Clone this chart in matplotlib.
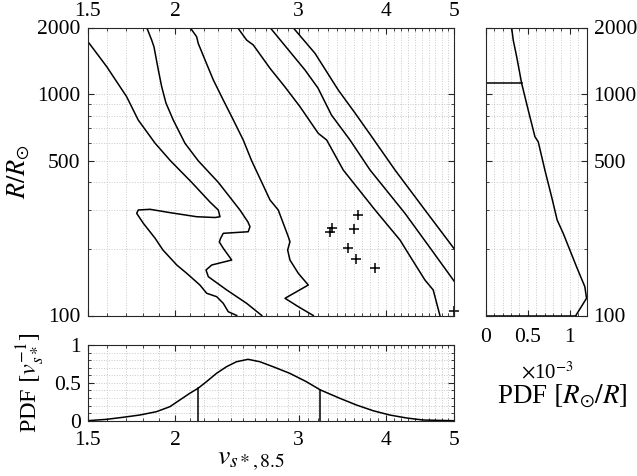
import numpy as np
import matplotlib
matplotlib.use('Agg')
import matplotlib.pyplot as plt
from matplotlib.ticker import FixedLocator, NullFormatter

plt.rcParams['font.family'] = ['Liberation Serif', 'DejaVu Serif']
plt.rcParams['mathtext.fontset'] = 'stix'

# contour lines of the joint density (v_s*, R)
c1_v = [1.5, 1.598, 1.706, 1.772, 1.873, 1.970, 2.112, 2.243, 2.305, 2.318, 2.280, 2.147,
        1.970, 1.842, 1.772, 1.763, 1.802, 1.873, 1.922, 2.011, 2.078, 2.170, 2.219, 2.293,
        2.343, 2.382, 2.449]
c1_R = [1737, 1330, 973, 764, 600, 500, 399.5, 325.5, 299.6, 279.4, 277.1, 279.4,
        291.3, 301.8, 299.6, 289.5, 260.9, 223.3, 197.6, 169.1, 155.1, 137.3, 126.0, 121.6,
        113.5, 104.0, 100]
c2_v = [1.822, 1.852, 1.866, 1.893, 1.914, 1.941, 1.988, 2.066, 2.158, 2.305, 2.475, 2.541,
        2.558, 2.543, 2.343, 2.323, 2.313, 2.343, 2.409, 2.256, 2.214, 2.231, 2.370, 2.530,
        2.659]
c2_R = [2000, 1755, 1637, 1285, 1080, 911.8, 764, 600, 500, 399.5, 299.6, 264.5,
        251.9, 239.0, 235.1, 223.3, 214.8, 201.2, 178.1, 169.1, 160.5, 149.7, 130.4, 113.5,
        100]
c3_v = [2.101, 2.147, 2.158, 2.207, 2.268, 2.343, 2.422, 2.502, 2.572, 2.659, 2.732, 2.807,
        2.901, 2.917, 2.895, 2.917, 2.998, 3.098, 2.870, 2.998, 3.149]
c3_R = [2000, 1816, 1696, 1426, 1158, 940.6, 764, 620.5, 500, 399.5, 332.4, 299.6,
        227.0, 215.4, 197.6, 178.1, 155.1, 137.3, 119.6, 109.6, 100]
c4_v = [2.455, 2.530, 2.586, 2.732, 2.870, 3.015, 3.201, 3.291, 3.475, 3.858, 4.187, 4.302,
        4.545, 4.670, 4.774]
c4_R = [2000, 1755, 1667, 1308, 1077, 877.3, 665.3, 620.5, 454.2, 299.6, 219.3, 190.9,
        144.6, 130.4, 100]
c5_v = [2.732, 2.839, 3.065, 3.198, 3.343, 3.553, 3.795, 4.256, 4.646, 5.0]
c5_R = [2000, 1725, 1285, 1066, 804.6, 620.5, 454.2, 289.5, 197.6, 143.2]
c6_v = [2.946, 3.167, 3.419, 3.612, 3.816, 4.119, 4.545, 5.0]
c6_R = [2000, 1529, 1043, 821.5, 642.2, 454.2, 299.6, 200.7]

# observed stars
obs_v = [3.651, 3.353, 3.327, 3.605, 3.533, 3.623, 3.857, 5.0]
obs_R = [284.4, 249.2, 239.0, 245.1, 201.2, 180.0, 164.4, 105.1]

# marginal PDF of R
pdfR_x = [0.308e-3, 0.327e-3, 0.368e-3, 0.427e-3, 0.505e-3, 0.585e-3, 0.624e-3, 0.703e-3,
          0.783e-3, 0.849e-3, 0.921e-3, 1.0e-3, 1.079e-3, 1.178e-3, 1.198e-3, 1.071e-3]
pdfR_R = [2003, 1755, 1476, 1119, 847.8, 642, 609.5, 454, 344, 270, 235, 197.6,
          166.1, 134.9, 119.6, 100]
R_bounds = [100, 1119]

# marginal PDF of v
pdfv_v = [1.5, 1.597, 1.686, 1.781, 1.881, 1.966, 2.031, 2.099, 2.157, 2.217, 2.292, 2.368,
          2.447, 2.542, 2.642, 2.760, 2.915, 3.079, 3.224, 3.436, 3.630, 3.833, 4.049, 4.278,
          4.516, 5.0]
pdfv_y = [0.0, 0.018, 0.045, 0.075, 0.119, 0.185, 0.273, 0.362, 0.428, 0.515, 0.626, 0.713,
          0.779, 0.811, 0.779, 0.713, 0.626, 0.515, 0.406, 0.296, 0.207, 0.132, 0.075, 0.036,
          0.009, 0.0]
v_bounds = [2.157, 3.224]

W, H = 637, 476
fig = plt.figure(figsize=(W / 100, H / 100), dpi=100)
ax = fig.add_axes([87.5 / W, 1 - 315.5 / H, (454 - 87.5) / W, 288 / H])
axr = fig.add_axes([485.7 / W, 1 - 315.5 / H, (586.7 - 485.7) / W, 288 / H])
axb = fig.add_axes([87.5 / W, 1 - 420.7 / H, (454 - 87.5) / W, 75.7 / H])

fs = 15.5
lw = 1.1
edge = '#262626'
v_major = [1.5, 2, 3, 4, 5]
v_minor = [x for x in np.round(np.arange(1.6, 5.0, 0.1), 1) if x not in (2, 3, 4)]
R_major = [100, 500, 1000, 2000]
R_minor = [200, 300, 400, 600, 700, 800, 900]


def style(a):
    a.grid(True, which='both', ls=':', lw=0.7, color='#c8c8c8')
    a.set_axisbelow(True)
    a.tick_params(which='both', direction='in', top=True, right=True,
                  labelsize=fs, color=edge, labelcolor='black', pad=5)
    a.tick_params(which='major', length=4)
    a.tick_params(which='minor', length=2.2)
    for s in a.spines.values():
        s.set_color(edge)
        s.set_linewidth(0.8)


def log_v(a):
    a.set_xscale('log')
    a.set_xlim(1.5, 5)
    a.xaxis.set_major_locator(FixedLocator(v_major))
    a.xaxis.set_minor_locator(FixedLocator(v_minor))
    a.set_xticklabels(['1.5', '2', '3', '4', '5'])
    a.xaxis.set_minor_formatter(NullFormatter())


def log_R(a):
    a.set_yscale('log')
    a.set_ylim(100, 2000)
    a.yaxis.set_major_locator(FixedLocator(R_major))
    a.yaxis.set_minor_locator(FixedLocator(R_minor))
    a.set_yticklabels(['100', '500', '1000', '2000'])
    a.yaxis.set_minor_formatter(NullFormatter())


# main panel
for cv, cR in [(c1_v, c1_R), (c2_v, c2_R), (c3_v, c3_R),
               (c4_v, c4_R), (c5_v, c5_R), (c6_v, c6_R)]:
    ax.plot(cv, cR, color='black', lw=lw)
ax.plot(obs_v, obs_R, '+', color='black', ms=6.5, mew=1.1, clip_on=False)
log_v(ax)
log_R(ax)
style(ax)
ax.tick_params(labeltop=True, labelbottom=False)
ax.set_ylabel(r'$R/R_{\odot}$', fontsize=19, labelpad=4)

# right panel: PDF of R
axr.plot(pdfR_x, pdfR_R, color='black', lw=lw)
for rb in R_bounds:
    xb = np.interp(np.log10(rb), np.log10(pdfR_R[::-1]), pdfR_x[::-1])
    axr.plot([0, xb], [rb, rb], color='black', lw=lw)
log_R(axr)
axr.set_xlim(0, 1.2e-3)
axr.xaxis.set_major_locator(FixedLocator([0, 0.5e-3, 1e-3]))
axr.xaxis.set_minor_locator(FixedLocator(np.arange(1, 12) * 1e-4))
axr.set_xticklabels(['0', '0.5', '1'])
axr.xaxis.set_minor_formatter(NullFormatter())
style(axr)
axr.tick_params(labelleft=False, labelright=True)
axr.tick_params(axis='x', pad=9)
axr.text(0.61, -0.16, r'$\times$10$^{\mathrm{-3}}$', transform=axr.transAxes,
         ha='center', va='top', fontsize=15)
axr.text(0.76, -0.232, r'PDF $[R_{\odot}/R]$', transform=axr.transAxes,
         ha='center', va='top', fontsize=19.5)

# bottom panel: PDF of v
axb.plot(pdfv_v, pdfv_y, color='black', lw=lw)
for vb in v_bounds:
    yb = np.interp(np.log10(vb), np.log10(pdfv_v), pdfv_y)
    axb.plot([vb, vb], [0, yb], color='black', lw=lw)
log_v(axb)
axb.set_ylim(0, 1)
axb.yaxis.set_major_locator(FixedLocator([0, 0.5, 1]))
axb.yaxis.set_minor_locator(FixedLocator(np.arange(1, 10) * 0.1))
axb.set_yticklabels(['0', '0.5', '1'])
axb.yaxis.set_minor_formatter(NullFormatter())
style(axb)
axb.tick_params(axis='x', pad=7.5)
axb.set_xlabel(r'$v_{s*,8.5}$', fontsize=20)
axb.xaxis.set_label_coords(0.445, -0.36)
axb.set_ylabel(r'PDF $[v_{s*}^{-1}]$', fontsize=17.5, labelpad=5)

fig.savefig('out.png', dpi=100)
